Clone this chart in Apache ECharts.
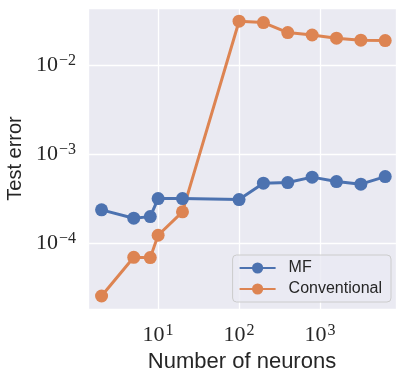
<!DOCTYPE html>
<html><head><meta charset="utf-8">
<script src="https://cdn.jsdelivr.net/npm/echarts@6/dist/echarts.min.js"></script>
<style>html,body{margin:0;padding:0;background:#fff}#c{width:407px;height:377px}</style>
</head><body><div id="c"></div>
<script>
const neurons = [2, 5, 8, 10, 20, 100, 200, 400, 800, 1600, 3200, 6400];
const mfError = [2.37e-4, 1.91e-4, 1.99e-4, 3.17e-4, 3.17e-4, 3.09e-4, 4.72e-4, 4.8e-4, 5.52e-4, 4.92e-4, 4.6e-4, 5.6e-4];
const convError = [2.56e-5, 6.96e-5, 6.9e-5, 1.23e-4, 2.25e-4, 0.031, 0.0299, 0.0231, 0.0217, 0.0200, 0.0190, 0.0188];
const xTickExponents = [1, 2, 3];
const yTickExponents = [-4, -3, -2];
const seriesNames = ['MF', 'Conventional'];

function fmt(exps) {
  return function (v) {
    const l = Math.log10(v);
    const e = Math.round(l);
    if (Math.abs(l - e) > 1e-6 || exps.indexOf(e) < 0) return '';
    return '{b|10}{s|' + String(e).replace('-', '\u2212') + '}';
  };
}
const rich = {
  b: { fontFamily: 'Liberation Serif', fontSize: 22, color: '#262626', lineHeight: 24 },
  s: { fontFamily: 'Liberation Serif', fontSize: 16, color: '#262626', verticalAlign: 'top', lineHeight: 14, padding: [0, 0, 0, 1] }
};
const chart = echarts.init(document.getElementById('c'), null, { renderer: 'canvas' });
const mk = (name, ys, color) => ({
  name, type: 'line',
  data: neurons.map((x, i) => [x, ys[i]]),
  symbol: 'circle', symbolSize: 13,
  lineStyle: { color, width: 3 },
  itemStyle: { color },
  emphasis: { disabled: true },
  animation: false, z: name === 'MF' ? 3 : 2
});
chart.setOption({
  animation: false,
  grid: { left: 88, top: 8, right: 11, bottom: 68, backgroundColor: '#eaeaf2', show: true, borderWidth: 0, containLabel: false, outerBoundsMode: 'none' },
  xAxis: {
    type: 'log', logBase: 10, min: 1.36, max: 8700,
    axisLine: { show: false }, axisTick: { show: false },
    splitLine: { show: true, lineStyle: { color: '#ffffff', width: 1.3 } },
    axisLabel: { formatter: fmt(xTickExponents), rich, margin: 14, showMinLabel: false, showMaxLabel: false },
    name: 'Number of neurons', nameLocation: 'middle', nameGap: 40,
    nameTextStyle: { fontFamily: 'Liberation Sans', fontSize: 22, color: '#262626' }
  },
  yAxis: {
    type: 'log', logBase: 10, min: 1.83e-5, max: 0.0436,
    axisLine: { show: false }, axisTick: { show: false },
    splitLine: { show: true, lineStyle: { color: '#ffffff', width: 1.3 } },
    axisLabel: { formatter: fmt(yTickExponents), rich, margin: 12, showMinLabel: false, showMaxLabel: false },
    name: 'Test error', nameLocation: 'middle', nameGap: 62,
    nameTextStyle: { fontFamily: 'Liberation Sans', fontSize: 20, color: '#262626' }
  },
  legend: {
    data: seriesNames, orient: 'vertical', right: 16, bottom: 75,
    backgroundColor: 'rgba(234,234,242,0.8)', borderColor: '#cccccc', borderWidth: 1, borderRadius: 4,
    padding: [5, 9, 5, 6], itemGap: 5, itemWidth: 36, itemHeight: 14,
    textStyle: { fontFamily: 'Liberation Sans', fontSize: 16, color: '#262626', padding: [0, 0, 0, 8] }
  },
  series: [mk('MF', mfError, '#4c72b0'), mk('Conventional', convError, '#dd8452')]
});
</script></body></html>
